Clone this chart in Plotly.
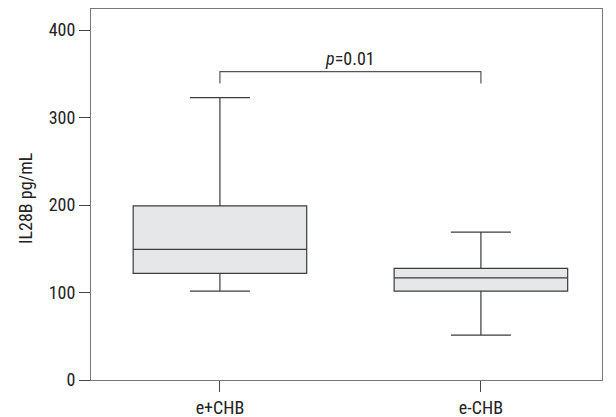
import plotly.graph_objects as go

categories = ["e+CHB", "e-CHB"]
lower_whisker = [101.6, 51.2]
q1_values = [121.9, 101.6]
medians = [149.4, 116.8]
q3_values = [199.0, 127.6]
upper_whisker = [322.7, 169.0]
y_tick_vals = [0, 100, 200, 300, 400]
y_title = "IL28B pg/mL"
p_label = "<i>p</i>=0.01"
bracket_top = 352.5
bracket_bottom = 339.0

FONT = "Liberation Sans Narrow, Arial Narrow, Roboto Condensed, DejaVu Sans Condensed, sans-serif"
LINE = "#3c3c3c"

# page body adds an 8px offset; margins compensate
L, R, T, B, W, H = 83, 22, 1, 45, 616, 417
PW, PH = W - L - R, H - T - B

xpos = list(range(len(categories)))

fig = go.Figure()
fig.add_trace(go.Box(
    x=xpos,
    q1=q1_values, median=medians, q3=q3_values,
    lowerfence=lower_whisker, upperfence=upper_whisker,
    width=0.665, whiskerwidth=0.346,
    fillcolor="#e6e7e8",
    line=dict(color=LINE, width=1.2),
    boxpoints=False, showlegend=False, hoverinfo="skip",
))

fig.add_shape(type="path",
              path=f"M {xpos[0]},{bracket_bottom} L {xpos[0]},{bracket_top} L {xpos[1]},{bracket_top} L {xpos[1]},{bracket_bottom}",
              xref="x", yref="y", line=dict(color="#555555", width=1.2))
fig.add_annotation(x=(xpos[0] + xpos[1]) / 2, y=bracket_top, text=p_label,
                   xref="x", yref="y", showarrow=False, yanchor="bottom", yshift=1,
                   font=dict(family=FONT, size=18, color="#222222"))
fig.add_annotation(x=(17 - L) / PW, y=(H - B - 190) / PH, xref="paper", yref="paper",
                   text=y_title, textangle=-90, showarrow=False,
                   xanchor="center", yanchor="middle",
                   font=dict(family=FONT, size=18, color="#222222"))

fig.update_layout(
    width=W, height=H,
    margin=dict(l=L, r=R, t=T, b=B),
    paper_bgcolor="white", plot_bgcolor="white",
    font=dict(family=FONT, size=18, color="#222222"),
)
fig.update_xaxes(
    range=[-0.494, 1.464], automargin=False,
    tickvals=xpos, ticktext=categories,
    ticks="outside", ticklen=11, tickcolor="#444444",
    showline=True, linecolor="#777777", linewidth=1.2, mirror=True,
    showgrid=False, zeroline=False,
    tickfont=dict(family=FONT, size=18),
)
fig.update_yaxes(
    range=[0, 424], automargin=False,
    tickvals=y_tick_vals,
    ticks="outside", ticklen=11, tickcolor="#444444",
    showline=True, linecolor="#777777", linewidth=1.2, mirror=True,
    showgrid=False, zeroline=False,
    tickfont=dict(family=FONT, size=18),
)

fig.write_html("out.html")
